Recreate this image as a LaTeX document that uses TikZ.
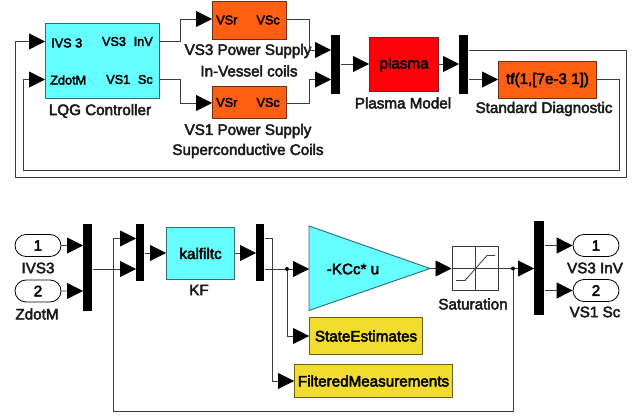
\documentclass[tikz,border=0pt]{standalone}
\usepackage{fontspec}
\setmainfont[FakeBold=3]{Liberation Sans}
\usetikzlibrary{arrows.meta,shapes.misc,shapes.geometric}
\definecolor{cy}{HTML}{66FFFF}
\definecolor{cyb}{HTML}{2F6F70}
\definecolor{org}{HTML}{FF5F10}
\definecolor{orb}{HTML}{6E3010}
\definecolor{rd}{HTML}{FF0008}
\definecolor{rdb}{HTML}{702020}
\definecolor{yl}{HTML}{F2DC2E}
\definecolor{ylb}{HTML}{6A5F10}
\definecolor{wire}{HTML}{3C3C3C}
\tikzset{
  x=0.75pt,y=-0.75pt,
  lab/.style={font=\fontsize{11.4pt}{13pt}\selectfont,inner sep=0pt,text=black!90},
  prt/.style={font=\fontsize{9.5pt}{11pt}\selectfont,inner sep=0pt,text=black},
  blk/.style={draw,line width=0.8pt,inner sep=0pt,font=\fontsize{11.4pt}{13pt}\selectfont},
  cyanbox/.style={blk,fill=cy,draw=cyb},
  orangebox/.style={blk,fill=org,draw=orb},
  redbox/.style={blk,fill=rd,draw=rdb},
  yellowbox/.style={blk,fill=yl,draw=ylb},
  whitebox/.style={blk,fill=white,draw=wire},
  muxbar/.style={fill=black,draw=none,inner sep=0pt},
  portshape/.style={draw,rounded rectangle,fill=white,inner sep=0pt,line width=0.6pt,minimum width=34.5pt,minimum height=16.5pt,font=\fontsize{11.4pt}{13pt}\selectfont},
  wr/.style={draw=wire,line width=0.6pt,-{Triangle[length=12pt,width=12pt,fill=black,color=black]}},
  fb/.style={draw=wire,line width=0.6pt},
  junc/.style={circle,fill=black,inner sep=0pt,minimum size=3pt},
}
\newcommand{\bx}[6]{\node[#1,minimum width=#4*0.75pt,minimum height=#5*0.75pt,anchor=north west] (#2) at (#3) {#6};}
\begin{document}
\begin{tikzpicture}
\useasboundingbox (0,0) rectangle (635,416);
% top system
\bx{cyanbox}{lqg}{45,23}{114}{75}{}
\bx{orangebox}{psa}{212,1}{74}{38}{}
\bx{orangebox}{psb}{212,86}{74}{32}{}
\bx{muxbar}{mxa}{331,35}{9}{59}{}
\bx{redbox}{plasma}{369,37}{69}{54}{plasma}
\bx{muxbar}{mxb}{459,35}{9}{59}{}
\bx{orangebox}{tfb}{498,61}{98}{37}{tf(1,[7e-3 1])}
\node[prt,anchor=west] (t1) at (51,43) {IVS 3};
\node[prt,anchor=west] (t2) at (50,80) {ZdotM};
\node[prt,anchor=east] (t3) at (153,41.5) {VS3\,\, InV};
\node[prt,anchor=east] (t4) at (153,79.5) {VS1\,\, Sc};
\node[prt,anchor=west] (t5) at (216,20) {VSr};
\node[prt,anchor=east] (t6) at (280,20) {VSc};
\node[prt,anchor=west] (t7) at (216,102.5) {VSr};
\node[prt,anchor=east] (t8) at (280,102.5) {VSc};
\node[lab] (l1) at (100,111) {LQG Controller};
\node[lab] (l2) at (248,51) {VS3 Power Supply};
\node[lab] (l3) at (249,71) {In-Vessel coils};
\node[lab] (l4) at (248,131) {VS1 Power Supply};
\node[lab] (l5) at (248,151) {Superconductive Coils};
\node[lab] (l6) at (403,103) {Plasma Model};
\node[lab] (l7) at (544,109) {Standard Diagnostic};
\coordinate (a1) at (0,41.5);
\coordinate (a2) at (0,79.5);
\coordinate (a3) at (0,19);
\coordinate (a4) at (0,103);
\coordinate (a5) at (0,50);
\coordinate (a6) at (0,64);
\coordinate (fbo) at (626,177);
\coordinate (fbi) at (619,170);
\draw[wr] (lqg.east |- a1) -- (180,41.5) -- (180,19) -- (psa.west |- a3);
\draw[wr] (lqg.east |- a2) -- (180,79.5) -- (180,103) -- (psb.west |- a4);
\draw[wr] (psa.east |- a3) -- (309,19) -- (309,50) -- (mxa.west |- a5);
\draw[wr] (psb.east |- a4) -- (309,103) -- (309,79.5) -- (mxa.west |- a2);
\draw[wr] (mxa.east |- a6) -- (plasma.west |- a6);
\draw[wr] (plasma.east |- a6) -- (mxb.west |- a6);
\draw[wr] (mxb.east |- a2) -- (tfb.west |- a2);
\draw[wr] (mxb.east |- a5) -- (fbo |- a5) -- (fbo) -- (15,177) -- (15,41.5) -- (lqg.west |- a1);
\draw[wr] (tfb.east |- a2) -- (fbi |- a2) -- (fbi) -- (23,170) -- (23,79.5) -- (lqg.west |- a2);
% bottom system
\node[portshape] (in1) at (38,245.5) {1};
\node[portshape] (in2) at (38,291) {2};
\bx{muxbar}{ma}{83,224}{9}{87}{}
\bx{muxbar}{mb}{136,224}{8}{57}{}
\bx{cyanbox}{kf}{166,227}{68}{52}{kalfiltc}
\bx{muxbar}{mc}{256,224}{8}{57}{}
\coordinate (gtl) at (309,226);
\coordinate (gbl) at (309,310.5);
\coordinate (gtip) at (430,268.5);
\draw[draw=cyb,fill=cy,line width=0.7pt] (gtl) -- (gtip) -- (gbl) -- cycle;
\node[blk,draw=none,anchor=center] (gain) at (353,269) {-KCc* u};
\bx{whitebox}{sat}{451.5,246}{46.5}{44}{}
\draw[fb] (sat.north) -- (sat.south);
\draw[fb] (sat.west) -- (sat.east);
\draw[fb] (456,280.5) -- (465,280.5) -- (487,255.5) -- (495,255.5);
\bx{muxbar}{md}{534,221}{10}{94}{}
\node[portshape] (out1) at (596,245.5) {1};
\node[portshape] (out2) at (596,290.5) {2};
\bx{yellowbox}{se}{309,317}{113}{37}{StateEstimates}
\bx{yellowbox}{fm}{294,364}{158}{33}{FilteredMeasurements}
\node[lab] (l8) at (38,268) {IVS3};
\node[lab] (l9) at (37,314) {ZdotM};
\node[lab] (l10) at (199,290) {KF};
\node[lab] (l11) at (473,304) {Saturation};
\node[lab] (l12) at (595,268) {VS3 InV};
\node[lab] (l13) at (595,312) {VS1 Sc};
\coordinate (b1) at (0,238.5);
\coordinate (b2) at (0,269);
\coordinate (b3) at (0,253);
\coordinate (b4) at (0,336);
\coordinate (b5) at (0,381);
\coordinate (jb) at (287,269);
\coordinate (js) at (513,268.5);
\draw[wr] (in1) -- (ma.west |- in1);
\draw[wr] (in2) -- (ma.west |- in2);
\draw[wr] (ma.east |- b2) -- (mb.west |- b2);
\draw[wr] (mb.east |- b3) -- (kf.west |- b3);
\draw[wr] (kf.east |- b3) -- (mc.west |- b3);
\draw[wr] (mc.east |- b2) -- (gtl |- b2);
\draw[wr] (gtip) -- (sat.west |- gtip);
\draw[wr] (sat.east |- js) -- (md.west |- js);
\draw[wr] (md.east |- out1) -- (out1);
\draw[wr] (md.east |- out2) -- (out2);
\draw[wr] (jb) -- (jb |- b4) -- (se.west |- b4);
\draw[wr] (mc.east |- b1) -- (272,238.5) -- (272,381) -- (fm.west |- b5);
\draw[wr] (js) -- (513,411) -- (113.5,411) -- (113.5,238.5) -- (mb.west |- b1);
\node[junc] (jbn) at (jb) {};
\node[junc] (jsn) at (js) {};
\end{tikzpicture}
\end{document}
